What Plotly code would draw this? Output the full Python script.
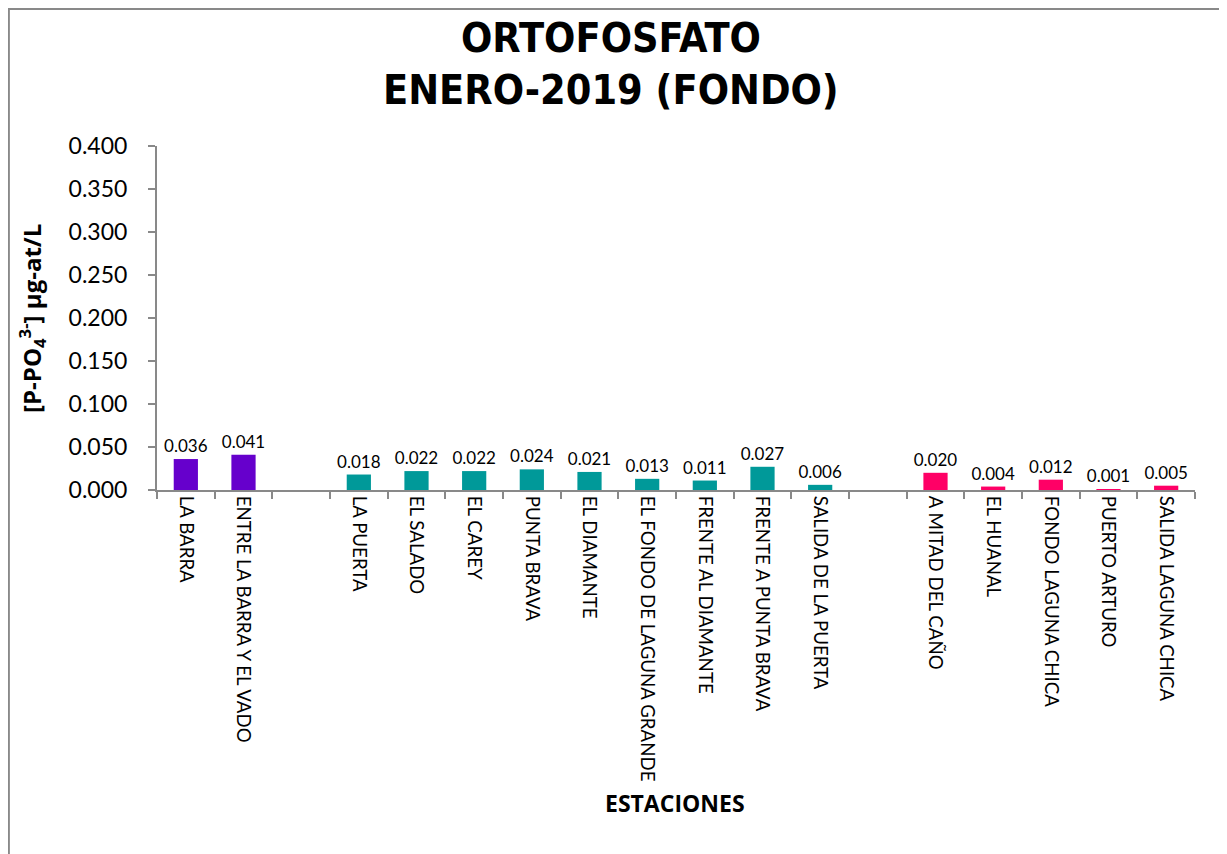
import plotly.graph_objects as go

categories = ["LA BARRA", "ENTRE LA BARRA Y EL VADO", " ",
              "LA PUERTA", "EL SALADO", "EL CAREY", "PUNTA BRAVA", "EL DIAMANTE",
              "EL FONDO DE LAGUNA GRANDE", "FRENTE AL DIAMANTE", "FRENTE A PUNTA BRAVA",
              "SALIDA DE LA PUERTA", "  ",
              "A MITAD DEL CAÑO", "EL HUANAL", "FONDO LAGUNA CHICA", "PUERTO ARTURO",
              "SALIDA LAGUNA CHICA"]

group1_x = ["LA BARRA", "ENTRE LA BARRA Y EL VADO"]
group1_y = [0.036, 0.041]

group2_x = ["LA PUERTA", "EL SALADO", "EL CAREY", "PUNTA BRAVA", "EL DIAMANTE",
            "EL FONDO DE LAGUNA GRANDE", "FRENTE AL DIAMANTE", "FRENTE A PUNTA BRAVA",
            "SALIDA DE LA PUERTA"]
group2_y = [0.018, 0.022, 0.022, 0.024, 0.021, 0.013, 0.011, 0.027, 0.006]

group3_x = ["A MITAD DEL CAÑO", "EL HUANAL", "FONDO LAGUNA CHICA", "PUERTO ARTURO",
            "SALIDA LAGUNA CHICA"]
group3_y = [0.020, 0.004, 0.012, 0.001, 0.005]

title_lines = ["ORTOFOSFATO", "ENERO-2019 (FONDO)"]
x_title = "ESTACIONES"
y_title = "[P-PO<sub>4</sub><sup>3-</sup>] µg-at/L"

colors = ["#6600CC", "#009999", "#FF0066"]
base_font = "Lato, Open Sans, sans-serif"

fig = go.Figure()
for xs, ys, c in [(group1_x, group1_y, colors[0]), (group2_x, group2_y, colors[1]),
                  (group3_x, group3_y, colors[2])]:
    fig.add_trace(go.Bar(
        x=xs, y=ys, marker=dict(color=c, line=dict(width=0)), width=0.42,
        text=[f"{v:.3f}" for v in ys], textposition="outside", constraintext="none",
        textfont=dict(family=base_font, size=17, color="#000000"),
        cliponaxis=False, showlegend=False,
    ))

title_font = dict(family="DejaVu Sans Condensed, sans-serif", size=41, color="#000000")

fig.update_layout(
    width=1227, height=854,
    margin=dict(l=149, r=40, t=138, b=372),
    paper_bgcolor="white", plot_bgcolor="white",
    xaxis=dict(
        type="category", categoryorder="array", categoryarray=categories,
        range=[-0.5, len(categories) - 0.5],
        showline=True, linecolor="#898989", linewidth=2,
        ticks="outside", tickson="boundaries", ticklen=7, tickcolor="#898989", tickwidth=2,
        tickangle=90, showgrid=False,
        tickfont=dict(family=base_font, size=18.7, color="#000000"),
    ),
    yaxis=dict(
        range=[0, 0.4], dtick=0.05, tickformat=".3f",
        showline=True, linecolor="#898989", linewidth=2,
        ticks="outside", ticklen=7, tickcolor="#898989", tickwidth=2,
        ticklabelstandoff=16,
        showgrid=False, zeroline=False,
        tickfont=dict(family=base_font, size=23, color="#000000"),
    ),
    annotations=[
        dict(text="<b>" + title_lines[0] + "</b>", xref="paper", yref="paper",
             x=0.437, y=1.314, xanchor="center", yanchor="middle", showarrow=False,
             font=title_font),
        dict(text="<b>" + title_lines[1] + "</b>", xref="paper", yref="paper",
             x=0.437, y=1.163, xanchor="center", yanchor="middle", showarrow=False,
             font=title_font),
        dict(text="<b>" + x_title + "</b>", xref="paper", yref="paper",
             x=0.4995, y=-0.91, xanchor="center", yanchor="middle", showarrow=False,
             font=dict(family="Open Sans, sans-serif", size=23, color="#000000")),
        dict(text="<b>" + y_title + "</b>", xref="paper", yref="paper", textangle=-90,
             x=-0.1205, y=0.5, xanchor="center", yanchor="middle", showarrow=False,
             font=dict(family="Open Sans, sans-serif", size=24, color="#000000")),
    ],
    shapes=[dict(type="rect", xref="paper", yref="paper",
                 x0=-0.1427, x1=1.0295, y0=-1.1, y1=1.3983,
                 line=dict(color="#898989", width=2), fillcolor="rgba(0,0,0,0)", layer="below")],
)

fig.write_html("out.html")
